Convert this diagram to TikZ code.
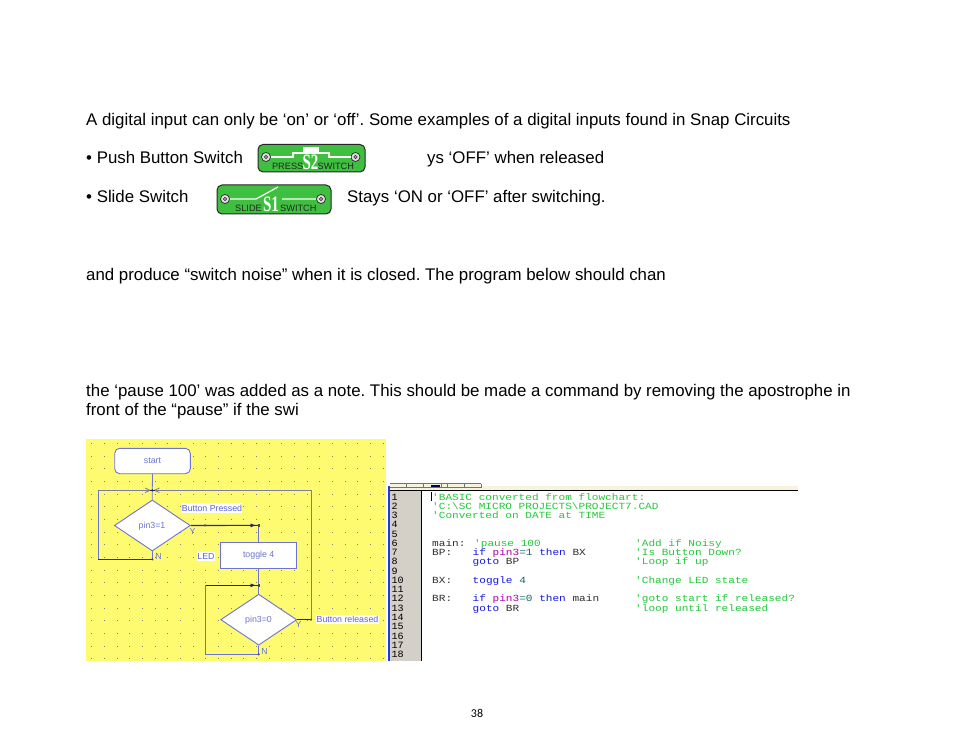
\documentclass[tikz,border=0pt]{standalone}
\usepackage{fontspec}
\setmainfont{Liberation Sans}
\newfontfamily\codefont[FakeStretch=1.18]{Liberation Mono}
\newfontfamily\numfont[FakeStretch=1.05]{Liberation Mono}
\newfontfamily\pagefont{Carlito}
\newfontfamily\swfont{Liberation Serif}
\usetikzlibrary{shapes.geometric}
\frenchspacing
\definecolor{padyellow}{HTML}{FFFB70}
\definecolor{flowblue}{HTML}{6C74D0}
\definecolor{flowgray}{HTML}{7C7C9C}
\definecolor{strongblue}{HTML}{1A20E0}
\definecolor{navy}{HTML}{20206C}
\definecolor{labelblue}{HTML}{5A60D8}
\definecolor{gutter}{HTML}{D4D0C8}
\definecolor{band}{HTML}{F6F3DE}
\definecolor{barblue}{HTML}{1F3FC8}
\definecolor{codegreen}{HTML}{22C83A}
\definecolor{codeblue}{HTML}{1818E0}
\definecolor{codemag}{HTML}{B000B0}
\definecolor{codeteal}{HTML}{106868}
\definecolor{codeblack}{HTML}{303030}
\definecolor{swgreen}{HTML}{3FBF3F}
\tikzset{
  page/.style={anchor=base west,inner sep=0,font=\fontsize{16.85}{18}\selectfont,text=black},
  flowline/.style={draw=flowblue,line width=0.8pt},
  flowgrayline/.style={draw=flowgray,line width=0.8pt},
  flowstrong/.style={draw=strongblue,line width=1.1pt},
  flowshape/.style={draw=flowblue,line width=0.9pt,fill=white,inner sep=0,text=flowblue,font=\fontsize{8.8}{10}\selectfont},
  flowlabel/.style={fill=white,inner sep=0.3pt,inner ysep=1.5pt,text=labelblue,font=\fontsize{8.8}{10}\selectfont},
  yn/.style={inner sep=0,text=flowblue,font=\fontsize{8.8}{10}\selectfont},
  joint/.style={circle,fill=black!70,inner sep=0,minimum size=2.4pt},
  griddot/.style={black!50},
  code/.style={anchor=base west,inner sep=0,font=\codefont\fontsize{9.4}{9}\selectfont},
  lnum/.style={anchor=base west,inner sep=0,text=black,font=\numfont\fontsize{9.6}{9}\selectfont},
  swbody/.style={draw=black!85,line width=1pt,fill=swgreen,rounded corners=5pt},
  swwire/.style={draw=white,line width=1.2pt},
  swcap/.style={inner sep=0,text=black!85,font=\fontsize{9.2}{9}\selectfont},
  swname/.style={inner sep=0,text=white,xscale=0.68,font=\swfont\bfseries\fontsize{22}{22}\selectfont},
  term/.style={circle,draw=black!85,line width=0.7pt,fill=black!12,minimum size=9pt,inner sep=0},
  termhole/.style={circle,draw=black!80,line width=0.5pt,fill=black!35,minimum size=3.5pt,inner sep=0}
}
\begin{document}
\begin{tikzpicture}[x=1pt,y=-1pt]
\useasboundingbox[fill=white] (0,0) rectangle (954,738);
% page text
\node[page] (t1) at (86,126) {A digital input can only be ‘on’ or ‘off’. Some examples of a digital inputs found in Snap Circuits};
\node[page] (t2) at (86,164) {• Push Button Switch};
\node[page] (t3) at (427,164) {ys ‘OFF’ when released};
\node[page] (t4) at (86,203) {• Slide Switch};
\node[page] (t5) at (347,203) {Stays ‘ON or ‘OFF’ after switching.};
\node[page] (t6) at (86,281) {and produce “switch noise” when it is closed. The program below should chan};
\node[page] (t7) at (86,396.5) {the ‘pause 100’ was added as a note. This should be made a command by removing the apostrophe in};
\node[page] (t8) at (86,415) {front of the “pause” if the swi};
\node[anchor=base,inner sep=0,font=\pagefont\fontsize{12}{12}\selectfont] (pg) at (477,717) {38};
% S2 switch
\draw[swbody] (258,144.5) rectangle (365,172);
\node[term] (s2a) at (266,157) {};\node[termhole] at (s2a) {};
\node[term] (s2b) at (355.5,157) {};\node[termhole] at (s2b) {};
\draw[swwire] (s2a) -- (293,157) (329,157) -- (s2b);
\draw[swwire] (293,157.6) -- (293,153) -- (329,153) -- (329,157.6);
\fill[white] (303,147.5) rectangle (319,153);
\node[swname] (s2n) at (310.5,162.5) {S2};
\node[swcap,anchor=base east] (s2l) at (303.5,170) {PRESS};
\node[swcap,anchor=base west] (s2r) at (317.5,170) {SWITCH};
% S1 switch
\draw[swbody] (217,185) rectangle (331,214);
\node[term] (s1a) at (225,199) {};\node[termhole] at (s1a) {};
\node[term] (s1b) at (321,199) {};\node[termhole] at (s1b) {};
\draw[swwire] (s1a) -- (256,199) -- (278,187) (282,199) -- (s1b);
\node[swname] (s1n) at (271,204.5) {S1};
\node[swcap,anchor=base east] (s1l) at (262,212) {SLIDE};
\node[swcap,anchor=base west] (s1r) at (280,212) {SWITCH};
% flowchart pad
\fill[padyellow] (86,439) rectangle (386,661);
\foreach \i in {0,...,23}{\foreach \j in {0,...,17}{
  \fill[griddot] (91.2+\i*12.67,443+\j*12.67) rectangle +(0.9,0.9);}}
% flowchart nodes
\node[flowshape,rounded corners=5pt,minimum width=75.6pt,minimum height=25.4pt] (start) at (152.5,461) {start};
\node[flowshape,diamond,aspect=1.5,minimum width=76pt,minimum height=51pt] (d1) at (152.3,525.5) {};
\node[yn] (d1t) at (152,526) {pin3=1};
\node[flowshape,minimum width=76pt,minimum height=26.4pt] (tog) at (258.7,555.5) {toggle 4};
\node[flowshape,diamond,aspect=1.5,minimum width=76pt,minimum height=51pt] (d2) at (258.7,619.7) {};
\node[yn] (d2t) at (258.5,620) {pin3=0};
\node[flowlabel] (l1) at (212,508) {Button Pressed};
\node[flowlabel] (l2) at (206,556.5) {LED};
\node[flowlabel] (l3) at (347.5,619.5) {Button released};
\node[yn] (y1) at (192.5,531) {Y};
\node[yn] (n1) at (158.5,556.5) {N};
\node[yn] (y2) at (298.5,624.5) {Y};
\node[yn] (n2) at (264.5,651) {N};
% connector points
\coordinate (j1) at (152.3,490.3);
\coordinate (n1p) at (152.3,559.3);
\coordinate (y1p) at (258.7,525.4);
\coordinate (j2) at (258.7,585.3);
\coordinate (n2p) at (258.7,654.3);
\coordinate (y2p) at (311,619.7);
\coordinate (y1m) at (205,525.4);
% connectors
\draw[flowline] (start.south) -- (j1) -- (d1.north);
\draw[flowstrong] (n1p) -- (98.3,559.3);
\draw[flowline] (d1.south) -- (n1p);
\draw[flowline] (98.3,559.3) -- (98.3,490.3);
\draw[flowgrayline] (98.3,490.3) -- (j1) -- (311,490.3) -- (y2p);
\draw[flowstrong] (d1.east) -- (y1p);
\draw[flowline] (y1p) -- (tog.north);
\draw[flowline] (tog.south) -- (j2) -- (d2.north);
\draw[navy,line width=1.1pt] (j2) -- (205.3,585.3);
\draw[flowline] (205.3,585.3) -- (205.3,654.3) -- (n2p) -- (d2.south);
\draw[navy,line width=1pt] (d2.east) -- (y2p);
\draw[flowgrayline] (145,488) -- (150,490.3) -- (145,492.6) (159.5,488) -- (154.5,490.3) -- (159.5,492.6);
\draw[navy,line width=1.4pt] (150,490.3) -- (154.5,490.3);
\draw[navy,line width=1pt] (250.5,524) -- (254,525.4) -- (250.5,526.8);
\draw[navy,line width=1pt] (250.5,584) -- (254,585.3) -- (250.5,586.6);
\node[joint,fill=navy] at (j1) {};
\node[joint] at (n1p) {};
\node[joint] at (y1m) {};
\node[joint,rectangle,minimum size=2.4pt] at (y1p) {};
\node[joint,rectangle,minimum size=2.4pt] at (j2) {};
\node[joint] at (n2p) {};
\node[joint] at (y2p) {};
% editor
\fill[band] (389.5,486) rectangle (798,490.5);
\fill[barblue] (387.8,486) rectangle (390,661);
\draw[black,line width=0.9pt] (389.5,490.8) -- (798,490.8);
\fill[gutter] (390,491.3) rectangle (421.5,661);
\draw[black,line width=0.8pt] (421.7,491.3) -- (421.7,661);
\fill[band] (390,483) rectangle (481,487.5);
\draw[black!55,line width=0.5pt] (390,487.5) -- (481,487.5) (390,483.5) -- (481,483.5)
  (406,483.5) -- (406,487.5) (423,483.5) -- (423,487.5) (441,483.5) -- (441,487.5)
  (447,483.5) -- (447,487.5) (464,483.5) -- (464,487.5) (481,483.5) -- (481,487.5);
\fill[black!70!blue] (431,484.5) rectangle (440,486.5);
\foreach \n in {1,...,18}{
  \node[lnum] (ln\n) at (391.3,{500+(\n-1)*9.27}) {\n};
}
\draw[black,line width=0.8pt] (431.7,492) -- (431.7,501);
\node[code,text=codegreen] (c1) at (432,500) {'BASIC converted from flowchart:};
\node[code,text=codegreen] (c2) at (432,509.3) {'C:\textbackslash SC MICRO PROJECTS\textbackslash PROJECT7.CAD};
\node[code,text=codegreen] (c3) at (432,518.5) {'Converted on DATE at TIME};
\node[code,text=codeblack] (c6a) at (432,546.3) {main:};
\node[code,text=codegreen] (c6b) at (474,546.3) {'pause 100};
\node[code,text=codegreen] (c6c) at (635,546.3) {'Add if Noisy};
\node[code,text=codeblack] (c7a) at (432,555.6) {BP:};
\node[code] (c7b) at (472.5,555.6) {\textcolor{codeblue}{if} \textcolor{codemag}{pin3}\textcolor{codeteal}{=1} \textcolor{codeblue}{then} \textcolor{codeblack}{BX}};
\node[code,text=codegreen] (c7c) at (635,555.6) {'Is Button Down?};
\node[code] (c8b) at (472.5,564.8) {\textcolor{codeblue}{goto} \textcolor{codeblack}{BP}};
\node[code,text=codegreen] (c8c) at (635,564.8) {'Loop if up};
\node[code,text=codeblack] (c10a) at (432,583.4) {BX:};
\node[code] (c10b) at (472.5,583.4) {\textcolor{codeblue}{toggle} \textcolor{codeteal}{4}};
\node[code,text=codegreen] (c10c) at (635,583.4) {'Change LED state};
\node[code,text=codeblack] (c12a) at (432,601.9) {BR:};
\node[code] (c12b) at (472.5,601.9) {\textcolor{codeblue}{if} \textcolor{codemag}{pin3}\textcolor{codeteal}{=0} \textcolor{codeblue}{then} \textcolor{codeblack}{main}};
\node[code,text=codegreen] (c12c) at (635,601.9) {'goto start if released?};
\node[code] (c13b) at (472.5,611.2) {\textcolor{codeblue}{goto} \textcolor{codeblack}{BR}};
\node[code,text=codegreen] (c13c) at (635,611.2) {'loop until released};
\end{tikzpicture}
\end{document}
